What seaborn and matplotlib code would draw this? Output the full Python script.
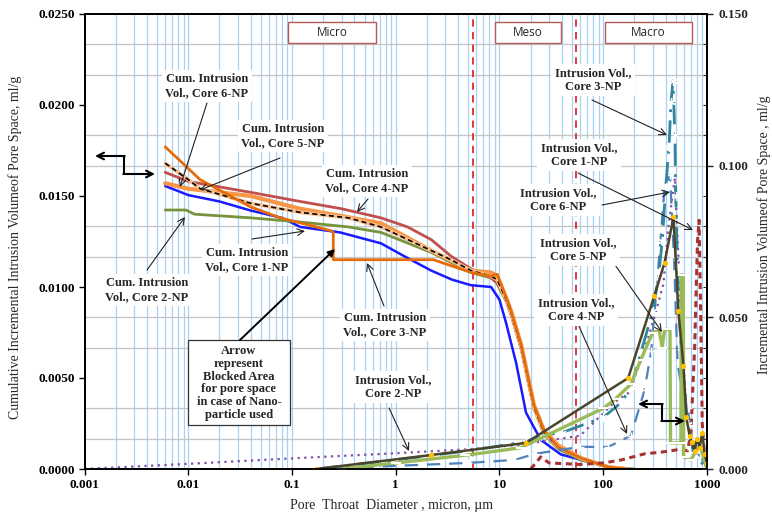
import numpy as np
import pandas as pd
import seaborn as sns
import matplotlib.pyplot as plt
from matplotlib.patches import Rectangle
from matplotlib.ticker import MultipleLocator, NullFormatter, LogLocator

# cumulative intrusion volume (left axis, ml/g) vs pore throat diameter (micron)
c1_x = [0.006, 0.01, 0.02, 0.04, 0.08, 0.12, 0.29, 0.72, 1.2, 2.2, 3.5, 5.3, 8.3, 10, 11.6, 14.5, 18, 25, 39, 96, 150]
c1_y = [0.01555, 0.01505, 0.0147, 0.0142, 0.0138, 0.0133, 0.0130, 0.0124, 0.0117, 0.0109, 0.0104, 0.0101, 0.0100,
        0.0093, 0.0080, 0.0058, 0.0031, 0.0016, 0.0008, 0.0002, 0.0]
c2_x = [0.006, 0.0095, 0.0115, 0.04, 0.12, 0.35, 0.72, 2.2, 5.3, 8.3, 9.3, 11.6, 12.9, 16.2, 18.9, 21.5, 26.9, 36.8, 61, 112, 200]
c2_y = [0.01423, 0.01423, 0.0140, 0.0138, 0.01357, 0.0133, 0.0130, 0.0119, 0.0108, 0.0105, 0.0103, 0.0092, 0.0085,
        0.0066, 0.0048, 0.0033, 0.0019, 0.0011, 0.0005, 0.0001, 0.0]
c3_x = [0.006, 0.013, 0.04, 0.077, 0.235, 0.25, 0.25, 2.3, 5.3, 8.3, 9.5, 11.6, 12.9, 16.2, 18.9, 21.5, 26.9, 36.8, 61, 112, 167]
c3_y = [0.0177, 0.0159, 0.0144, 0.0138, 0.0131, 0.0130, 0.0115, 0.0115, 0.0108, 0.0106, 0.0107, 0.0094, 0.0087,
        0.0068, 0.0050, 0.0035, 0.0021, 0.0012, 0.0006, 0.0001, 0.0]
c4_x = [0.006, 0.01, 0.02, 0.04, 0.12, 0.3, 0.72, 1.3, 2.2, 3.4, 5.3, 8.3, 9.5, 11.6, 12.9, 16.2, 18.9, 21.5, 26.9,
        36.8, 61, 112, 167]
c4_y = [0.0163, 0.0158, 0.0155, 0.0152, 0.0147, 0.0143, 0.0138, 0.0133, 0.0126, 0.0117, 0.0110, 0.0105, 0.0102,
        0.0093, 0.0085, 0.0066, 0.0048, 0.0034, 0.0020, 0.0012, 0.0006, 0.0001, 0.0]
c5_x = [0.006, 0.01, 0.02, 0.04, 0.12, 0.3, 0.72, 2.2, 5.3, 8.3, 9.5, 11.6, 12.9, 16.2, 18.9, 21.5, 26.9, 36.8, 61, 112, 167]
c5_y = [0.0157, 0.0154, 0.0152, 0.0150, 0.0143, 0.0139, 0.0135, 0.0120, 0.0109, 0.0108, 0.0106, 0.0094, 0.0087,
        0.0068, 0.0050, 0.0035, 0.0021, 0.0013, 0.0006, 0.0001, 0.0]
c6_x = [0.006, 0.01, 0.013, 0.04, 0.12, 0.35, 0.72, 2.2, 3.4, 5.3, 8.3, 9.5, 11.6, 12.9, 16.2, 18.9, 21.5, 26.9,
        36.8, 61, 112, 167]
c6_y = [0.0168, 0.0159, 0.0154, 0.0146, 0.0141, 0.0138, 0.0133, 0.0120, 0.0115, 0.0109, 0.0106, 0.0104, 0.0093,
        0.0086, 0.0067, 0.0049, 0.0034, 0.0020, 0.0012, 0.0006, 0.0001, 0.0]

# incremental intrusion volume (right axis, ml/g)
i1_x = [20, 25, 30, 40, 60, 100, 150, 250, 350, 450, 550, 650, 700, 760, 810, 840, 870, 900, 950, 1000]
i1_y = [0.0, 0.004, 0.002, 0.0018, 0.0015, 0.002, 0.003, 0.005, 0.0055, 0.006, 0.0065, 0.006, 0.012, 0.04, 0.075,
        0.082, 0.05, 0.015, 0.003, 0.0]
i2_x = [0.001, 0.01, 0.1, 1, 5, 16, 60, 128, 174, 233, 311, 380, 425, 490, 530, 593, 632, 700, 850, 1000]
i2_y = [0.0, 0.0017, 0.0035, 0.0052, 0.0065, 0.008, 0.011, 0.022, 0.025, 0.036, 0.05, 0.061, 0.08, 0.096, 0.07,
        0.035, 0.02, 0.008, 0.004, 0.001]
i3_x = [0.17, 1, 5, 18, 25, 40, 100, 150, 185, 300, 340, 370, 400, 430, 450, 470, 490, 500, 520, 560, 650, 750, 1000]
i3_y = [0.0, 0.003, 0.006, 0.009, 0.011, 0.012, 0.017, 0.022, 0.027, 0.052, 0.063, 0.075, 0.093, 0.106, 0.121,
        0.128, 0.11, 0.09, 0.066, 0.04, 0.015, 0.005, 0.0]
i4_x = [0.17, 5, 14, 22, 60, 112, 185, 250, 290, 330, 390, 440, 480, 520, 580, 650, 720, 850, 1000]
i4_y = [0.0, 0.002, 0.003, 0.005, 0.0073, 0.0073, 0.011, 0.026, 0.039, 0.061, 0.093, 0.097, 0.07, 0.035, 0.025,
        0.02, 0.01, 0.004, 0.001]
i5_x = [0.3, 1, 4.6, 16, 100, 130, 185, 230, 300, 345, 370, 390, 440, 445, 560, 565, 590, 595, 700, 850, 1000]
i5_y = [0.0, 0.002, 0.0045, 0.007, 0.020, 0.023, 0.028, 0.036, 0.045, 0.046, 0.040, 0.046, 0.046, 0.0086, 0.0086,
        0.064, 0.064, 0.004, 0.003, 0.008, 0.0]
i6_x = [0.17, 2.2, 18, 174, 310, 390, 475, 530, 593, 632, 680, 710, 760, 800, 850, 900, 950, 1000]
i6_y = [0.0, 0.0046, 0.0086, 0.030, 0.057, 0.068, 0.083, 0.052, 0.034, 0.017, 0.011, 0.009, 0.006, 0.010, 0.007,
        0.012, 0.005, 0.002]

x_ticks = [0.001, 0.01, 0.1, 1, 10, 100, 1000]
x_labels = ['0.001', '0.01', '0.1', '1', '10', '100', '1000']
zone_edges = [5.5, 55]

sns.set_theme(style='white')
plt.rcParams['font.family'] = ['Liberation Serif', 'DejaVu Serif']

fig = plt.figure(figsize=(7.72, 5.15), dpi=100)
ax = fig.add_axes([84.5 / 772, 46 / 515, 622.5 / 772, 455 / 515])
ax2 = ax.twinx()


def P(x, y):
    # pixel position in the picture -> axes fraction
    return ((x - 84.5) / 622.5, (469 - y) / 455)


ax.set_xscale('log')
ax.set_xlim(0.001, 1000)
ax.set_ylim(0, 0.025)
ax2.set_ylim(0, 0.15)

# grid
ax.xaxis.set_minor_locator(LogLocator(base=10, subs=np.arange(2, 10), numticks=20))
ax.xaxis.set_minor_formatter(NullFormatter())
ax.set_yticks(np.linspace(0, 0.025, 16), minor=True)
ax.grid(which='both', axis='x', color='#a9d1f7', lw=0.9)
ax.grid(which='minor', axis='y', color='#c4c4c4', lw=0.9)
ax.set_axisbelow(True)

for z in zone_edges:
    ax.axvline(z, color='#e0282a', ls=(0, (4, 3)), lw=1.3, zorder=1)

# cumulative curves
sns.lineplot(x=c1_x, y=c1_y, ax=ax, sort=False, estimator=None, color='#1a1aff', lw=1.8)
sns.lineplot(x=c2_x, y=c2_y, ax=ax, sort=False, estimator=None, color='#77933c', lw=2)
sns.lineplot(x=c4_x, y=c4_y, ax=ax, sort=False, estimator=None, color='#c0504d', lw=2)
sns.lineplot(x=c5_x, y=c5_y, ax=ax, sort=False, estimator=None, color='#f79646', lw=3)
sns.lineplot(x=c6_x, y=c6_y, ax=ax, sort=False, estimator=None, color='#fac090', lw=2.6)
sns.lineplot(x=c6_x, y=c6_y, ax=ax, sort=False, estimator=None, color='black', lw=1.2, linestyle=(0, (3, 2)))
sns.lineplot(x=c3_x, y=c3_y, ax=ax, sort=False, estimator=None, color='#e46c0a', lw=2)

# incremental curves
sns.lineplot(x=i1_x, y=i1_y, ax=ax2, sort=False, estimator=None, color='#a83232', lw=2.2, linestyle=(0, (2, 1.5)))
sns.lineplot(x=i2_x, y=i2_y, ax=ax2, sort=False, estimator=None, color='#7f4fa8', lw=1.6, linestyle=(0, (1, 2)))
sns.lineplot(x=i4_x, y=i4_y, ax=ax2, sort=False, estimator=None, color='#4f81bd', lw=1.6, linestyle=(0, (6, 4)),
             marker='+', ms=6, mew=1)
sns.lineplot(x=i3_x, y=i3_y, ax=ax2, sort=False, estimator=None, color='#31859c', lw=2, linestyle=(0, (8, 3, 1, 3)),
             marker=(6, 2, 0), ms=6, mew=0.9)
sns.lineplot(x=i5_x, y=i5_y, ax=ax2, sort=False, estimator=None, color='#9bbb59', lw=2.4, marker='_', ms=7, mew=1.5)
sns.lineplot(x=i6_x, y=i6_y, ax=ax2, sort=False, estimator=None, color='#4a452a', lw=1.8, marker='o', ms=3,
             mfc='#ffc000', mec='#ffc000')

# ticks
ax.set_xticks(x_ticks)
ax.set_xticklabels(x_labels)
ax.set_yticks(np.arange(0, 0.0251, 0.005))
ax.set_yticklabels(['%.4f' % v for v in np.arange(0, 0.0251, 0.005)])
ax2.set_yticks([0, 0.05, 0.1, 0.15])
ax2.set_yticklabels(['0.000', '0.050', '0.100', '0.150'])
ax2.yaxis.set_minor_locator(MultipleLocator(0.01))
ax.tick_params(axis='both', which='major', direction='out', length=4, width=1, labelsize=9.5, pad=3,
               colors='black', left=True, bottom=True)
ax.tick_params(axis='both', which='minor', length=0)
ax2.tick_params(axis='y', which='major', direction='out', length=4, width=1, labelsize=9.5, pad=4, right=True)
ax2.tick_params(axis='y', which='minor', direction='in', length=3, width=0.8, right=True)
for lab in ax.get_xticklabels() + ax.get_yticklabels() + ax2.get_yticklabels():
    lab.set_fontweight('bold')
for a in (ax, ax2):
    for s in a.spines.values():
        s.set_color('black')
        s.set_linewidth(1.3)
ax.set_xlabel('')
ax.set_ylabel('')
ax2.set_ylabel('')

fig.text(392 / 772, 1 - 505 / 515, 'Pore  Throat  Diameter , micron, \u00b5m', ha='center', va='center', fontsize=10)
fig.text(15 / 772, 1 - 247 / 515, 'Cumulative Incremental Intrusion Volumeof Pore Space, ml/g', rotation=90,
         ha='center', va='center', fontsize=10)
fig.text(764 / 772, 1 - 235 / 515, 'Incremental Intrusion Volumeof Pore Space , ml/g', rotation=90,
         ha='center', va='center', fontsize=10)

# zone boxes
for name, x0, x1 in [('Micro', 288, 376), ('Meso', 495, 561), ('Macro', 605, 692)]:
    fx0, fy0 = P(x0, 43)
    fx1, fy1 = P(x1, 22)
    ax2.add_patch(Rectangle((fx0, fy0), fx1 - fx0, fy1 - fy0, transform=ax2.transAxes, fc='white',
                            ec='#b55a5a', lw=1, zorder=5))
    ax2.text((fx0 + fx1) / 2, (fy0 + fy1) / 2, name, transform=ax2.transAxes, ha='center', va='center',
             fontsize=8.5, family=['Open Sans', 'DejaVu Sans'], zorder=6)

# labels with arrows: text, text centre, arrow tail, arrow tip (pixels)
notes = [
    ('Cum. Intrusion\nVol., Core 6-NP', (207, 86), (207, 103), (180, 187)),
    ('Cum. Intrusion\nVol., Core 5-NP', (283, 136), (280, 158), (200, 190)),
    ('Cum. Intrusion\nVol., Core 4-NP', (367, 181), (368, 199), (357, 212)),
    ('Cum. Intrusion\nVol., Core 1-NP', (247, 260), (252, 239), (305, 231)),
    ('Cum. Intrusion\nVol., Core 2-NP', (147, 290), (147, 270), (185, 217)),
    ('Cum. Intrusion\nVol., Core 3-NP', (385, 325), (384, 306), (367, 263)),
    ('Intrusion Vol.,\nCore 3-NP', (593, 80), (592, 100), (667, 135)),
    ('Intrusion Vol.,\nCore 1-NP', (579, 155), (578, 173), (693, 230)),
    ('Intrusion Vol.,\nCore 6-NP', (558, 200), (602, 205), (670, 192)),
    ('Intrusion Vol.,\nCore 5-NP', (578, 250), (613, 262), (662, 332)),
    ('Intrusion Vol.,\nCore 4-NP', (576, 310), (578, 324), (627, 434)),
    ('Intrusion Vol.,\nCore 2-NP', (393, 387), (389, 408), (409, 451)),
]
for txt, c, tail, tip in notes:
    ax2.annotate('', xy=P(*tip), xytext=P(*tail), xycoords='axes fraction', textcoords='axes fraction',
                 arrowprops=dict(arrowstyle='->', color='#222222', lw=0.8, shrinkA=0, shrinkB=0), zorder=7)
    ax2.text(*P(*c), txt, transform=ax2.transAxes, ha='center', va='center', fontsize=9, fontweight='bold',
             linespacing=1.15, bbox=dict(fc='white', ec='none', pad=2.5), zorder=8)

# blocked-area box
bx0, by0 = P(188, 425)
bx1, by1 = P(290, 340)
ax2.add_patch(Rectangle((bx0, by0), bx1 - bx0, by1 - by0, transform=ax2.transAxes, fc='white', ec='#333333',
                        lw=0.9, zorder=8))
ax2.text(*P(239, 383), 'Arrow\nrepresent\nBlocked Area\nfor pore space\nin case of Nano-\nparticle used',
         transform=ax2.transAxes, ha='center', va='center', fontsize=9, fontweight='bold', linespacing=1.1, zorder=9)
ax2.annotate('', xy=P(335, 249), xytext=P(240, 340), xycoords='axes fraction', textcoords='axes fraction',
             arrowprops=dict(arrowstyle='-|>', color='black', lw=1.4, mutation_scale=10, shrinkA=0, shrinkB=0),
             zorder=9)

# axis pointer arrows
for (xa, ya), (xm, ym), (xb, yb) in [((95, 156), (124, 156), (155, 174)), ((638, 404), (662, 404), (685, 421))]:
    ax2.plot([P(xm, ym)[0], P(xm, yb)[0]], [P(xm, ym)[1], P(xm, yb)[1]], transform=ax2.transAxes,
             color='black', lw=1.5, zorder=9)
    ax2.annotate('', xy=P(xa, ya), xytext=P(xm + 0.7, ym), xycoords='axes fraction', textcoords='axes fraction',
                 arrowprops=dict(arrowstyle='->', color='black', lw=1.5, shrinkA=0, shrinkB=0), zorder=9)
    ax2.annotate('', xy=P(xb, yb), xytext=P(xm - 0.7, yb), xycoords='axes fraction', textcoords='axes fraction',
                 arrowprops=dict(arrowstyle='->', color='black', lw=1.5, shrinkA=0, shrinkB=0), zorder=9)

fig.savefig('out.png', dpi=100)
